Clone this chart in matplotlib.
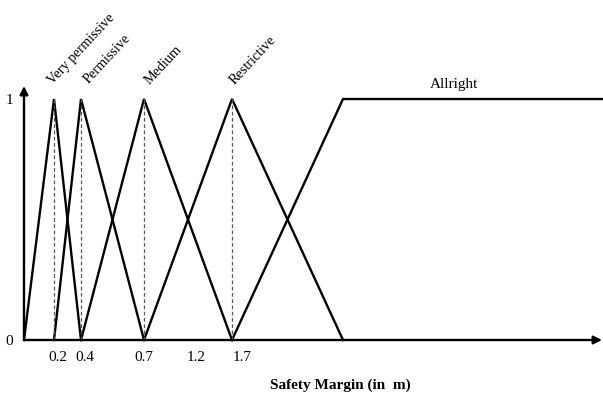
import numpy as np
import matplotlib
matplotlib.use('Agg')
import matplotlib.pyplot as plt
from matplotlib.transforms import ScaledTranslation

plt.rcParams['font.family'] = ['Liberation Serif', 'DejaVu Serif']

# membership function breakpoints (safety margin in m) and degrees
set_names = ['Very permissive', 'Permissive', 'Medium', 'Restrictive']
tri_x = [[0.0, 0.2, 0.4],
         [0.2, 0.4, 0.7],
         [0.4, 0.7, 1.7],
         [0.7, 1.7, 3.0]]
tri_mu = [0, 1, 0]
peaks = [0.2, 0.4, 0.7, 1.7]
allright_x = [1.7, 3.0, 6.0]
allright_mu = [0, 1, 1]

tick_values = [0.2, 0.4, 0.7, 1.2, 1.7]
tick_labels = ['0.2', '0.4', '0.7', '1.2', '1.7']

# schematic (non-uniform) spacing of the margin axis
knot_val = np.array([0.0, 0.2, 0.4, 0.7, 1.7, 3.0, 6.0])
knot_pos = np.array([0, 30, 57, 120, 208, 319, 578], dtype=float)


def fwd(x):
    return np.interp(x, knot_val, knot_pos)


def inv(p):
    return np.interp(p, knot_pos, knot_val)


# initialize figure
fig = plt.figure(figsize=(6.03, 3.96), dpi=100)
ax = fig.add_axes([24/603, 56/396, 578/603, 254/396])
ax.set_xscale('function', functions=(fwd, inv))
ax.set_xlim(0, 6.0)
ax.set_ylim(0, 1.054)
for s in ax.spines.values():
    s.set_visible(False)

# membership functions
for xs in tri_x:
    ax.plot(xs, tri_mu, c='k', lw=1.7, clip_on=False, solid_joinstyle='miter')
ax.plot(allright_x, allright_mu, c='k', lw=1.7, clip_on=False)

# dashed drop lines under each peak
for p in peaks:
    ax.plot([p, p], [0, 1], c='0.35', lw=0.9, dashes=(3, 2))

# axes arrows
arw = dict(arrowstyle='-|>', lw=1.7, color='k', mutation_scale=12,
           shrinkA=0, shrinkB=0)
ax.annotate('', xy=(1.0, 0), xytext=(0, 0), xycoords='axes fraction',
            arrowprops=arw)
ax.annotate('', xy=(0, 1.0), xytext=(0, 0), xycoords='axes fraction',
            arrowprops=arw)

# ticks
ax.set_xticks(tick_values)
ax.set_xticklabels(tick_labels)
ax.set_yticks([0, 1])
ax.set_yticklabels(['0', '1'])
ax.tick_params(length=0, labelsize=11)
ax.tick_params(axis='x', pad=8)
ax.tick_params(axis='y', pad=8)
for lab, dx in zip(ax.get_xticklabels(), [4, 4, 0, 8, 10]):
    lab.set_transform(lab.get_transform()
                      + ScaledTranslation(dx/100, 0, fig.dpi_scale_trans))

# set names above the peaks
offsets = [(-1, 14), (8, 15), (6, 14), (3, 14)]
for name, p, (dx, dy) in zip(set_names, peaks, offsets):
    ax.annotate(name, (p, 1), xytext=(dx*0.72, dy*0.72),
                textcoords='offset points', rotation=47,
                rotation_mode='anchor', ha='left', va='baseline',
                fontsize=10.2, annotation_clip=False)
ax.annotate('Allright', (4.3, 1), xytext=(-1, 6), textcoords='offset points',
            ha='center', va='bottom', fontsize=11)

# axis label
fig.text(340/603, 1 - 385/396, 'Safety Margin (in  m)', ha='center',
         va='center', fontsize=11, fontweight='bold')

fig.savefig('out.png', dpi=100)
